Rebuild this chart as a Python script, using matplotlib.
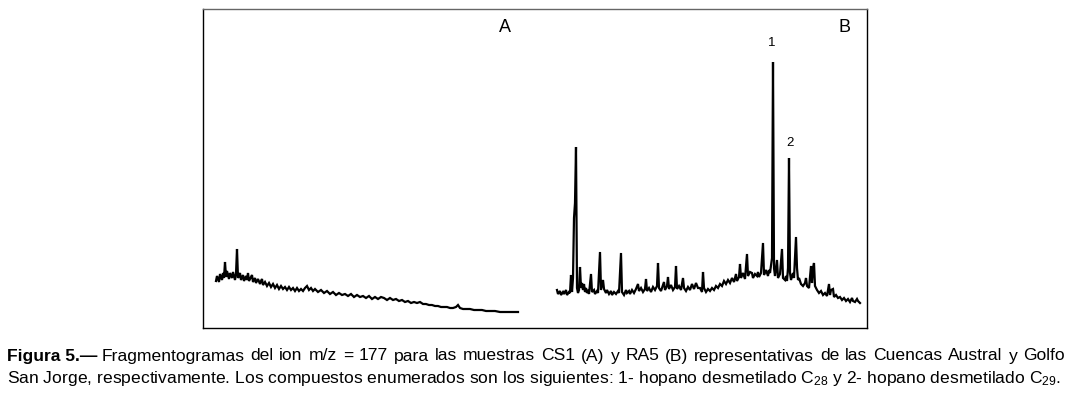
import matplotlib
matplotlib.use("Agg")
import matplotlib.pyplot as plt

plt.rcParams['font.family'] = ['Liberation Sans', 'DejaVu Sans']
plt.rcParams['mathtext.fontset'] = 'custom'
plt.rcParams['mathtext.rm'] = 'Liberation Sans'
plt.rcParams['mathtext.it'] = 'Liberation Sans:italic'
plt.rcParams['mathtext.bf'] = 'Liberation Sans:bold'

# muestra CS1 (A): pares (tiempo de retencion, abundancia), unidades arbitrarias
puntos_A = [
    (216, 47), (217, 52), (219, 46), (220, 54), (222, 48), (223, 55), (224, 50),
    (225, 66), (226, 51), (227, 57), (229, 49), (230, 55), (232, 50), (233, 56),
    (235, 48), (236, 54), (237, 79), (238, 50), (240, 55), (241, 48), (243, 53),
    (244, 47), (246, 52), (247, 48), (248, 55), (249, 47), (251, 51), (252, 53),
    (253, 46), (255, 50), (256, 45), (258, 49), (260, 44), (261, 47), (262, 49),
    (263, 43), (265, 46), (267, 42), (269, 45), (271, 41), (273, 44), (275, 40),
    (277, 43), (279, 39), (281, 42), (283, 39), (285, 41), (287, 38), (289, 41),
    (291, 38), (293, 40), (295, 37), (297, 40), (299, 37), (301, 39), (303, 37),
    (305, 40), (307, 42), (309, 38), (311, 40), (313, 37), (315, 39), (318, 36),
    (321, 38), (324, 35), (327, 37), (330, 34), (333, 36), (336, 33), (339, 35),
    (342, 33), (345, 34), (348, 32), (351, 34), (354, 31), (357, 33), (360, 31),
    (363, 32), (366, 30), (369, 32), (372, 29), (375, 31), (378, 29), (381, 31),
    (384, 30), (387, 28), (390, 30), (393, 28), (396, 29), (399, 27), (402, 28),
    (405, 26), (408, 27), (411, 25), (414, 26), (417, 25), (420, 26), (423, 24),
    (426, 24), (429, 23), (432, 23), (435, 22), (438, 22), (441, 21), (444, 21),
    (447, 21), (450, 20), (453, 20), (456, 21), (458, 23), (460, 20), (463, 19),
    (466, 19), (470, 19), (474, 18), (478, 18), (482, 18), (486, 17), (490, 17),
    (495, 17), (500, 16), (505, 16), (510, 16), (514, 16), (518, 16),
]

# muestra RA5 (B)
puntos_B = [
    (557, 38), (558, 34), (560, 37), (561, 33), (563, 36), (564, 34), (566, 38),
    (567, 33), (569, 36), (570, 35), (571, 53), (572, 36), (573, 50), (574, 110),
    (575, 125), (576, 181), (577, 40), (578, 35), (579, 38), (580, 61), (581, 40),
    (582, 45), (583, 38), (584, 44), (585, 36), (586, 40), (587, 35), (588, 38),
    (589, 34), (591, 54), (592, 36), (594, 38), (595, 34), (597, 37), (598, 35),
    (600, 76), (601, 38), (603, 48), (604, 39), (606, 35), (607, 38), (609, 34),
    (611, 37), (612, 33), (614, 36), (616, 34), (618, 37), (619, 35), (621, 75),
    (622, 36), (624, 33), (626, 38), (627, 35), (629, 37), (630, 34), (632, 38),
    (634, 35), (636, 39), (638, 44), (639, 37), (641, 40), (643, 36), (645, 39),
    (646, 49), (647, 37), (649, 40), (651, 36), (653, 41), (655, 38), (657, 42),
    (658, 65), (659, 40), (661, 37), (663, 43), (664, 46), (665, 38), (667, 42),
    (668, 51), (669, 39), (671, 43), (673, 38), (675, 41), (676, 62), (677, 39),
    (679, 42), (681, 38), (683, 50), (684, 40), (686, 37), (688, 41), (690, 38),
    (692, 44), (694, 39), (696, 45), (698, 40), (700, 40), (702, 36), (703, 56),
    (704, 40), (706, 36), (708, 39), (710, 37), (712, 40), (714, 38), (716, 42),
    (718, 40), (720, 44), (722, 42), (724, 47), (726, 44), (728, 48), (730, 45),
    (732, 50), (734, 46), (736, 54), (737, 47), (739, 51), (740, 64), (741, 50),
    (743, 55), (745, 49), (747, 74), (748, 52), (750, 56), (752, 55), (753, 50),
    (755, 54), (757, 52), (758, 56), (759, 51), (761, 55), (763, 85), (764, 53),
    (766, 58), (768, 52), (769, 58), (770, 55), (772, 70), (773, 266), (774, 60),
    (775, 52), (777, 68), (778, 50), (780, 54), (782, 79), (783, 50), (785, 48),
    (786, 52), (787, 47), (788, 60), (789, 170), (790, 55), (791, 48), (793, 55),
    (794, 50), (796, 91), (797, 60), (798, 48), (799, 50), (801, 44), (803, 42),
    (805, 45), (806, 50), (807, 42), (809, 40), (811, 62), (812, 45), (813, 60),
    (814, 65), (815, 42), (817, 38), (819, 35), (821, 37), (823, 33), (825, 35),
    (827, 32), (829, 44), (830, 33), (831, 38), (833, 39), (834, 31), (836, 33),
    (838, 30), (840, 31), (842, 28), (844, 30), (846, 27), (848, 29), (850, 26),
    (852, 30), (853, 27), (855, 26), (857, 29), (858, 27), (860, 25),
]

leyenda = ("Fragmentogramas del ion m/z = 177 para las muestras CS1 (A) y RA5 (B) "
           "representativas de las Cuencas Austral y Golfo")
leyenda2 = (r"San Jorge, respectivamente. Los compuestos enumerados son los siguientes: "
            r"1- hopano desmetilado C$_{28}$ y 2- hopano desmetilado C$_{29}$.")

fig = plt.figure(figsize=(10.72, 3.96), dpi=100)
ax = fig.add_axes([203 / 1072, 68 / 396, 664 / 1072, 319 / 396])
for pts in (puntos_A, puntos_B):
    xs = [p[0] for p in pts]
    ys = [p[1] for p in pts]
    ax.plot(xs, ys, color='black', lw=1.6, solid_joinstyle='miter')
ax.set_xlim(203, 867)
ax.set_ylim(0, 319)
ax.set_xticks([])
ax.set_yticks([])
for s in ax.spines.values():
    s.set_linewidth(1.0)
    s.set_color('black')
ax.spines['top'].set_color('#666666')

ax.text(505, 300, "A", fontsize=13, ha='center', va='center')
ax.text(845, 300, "B", fontsize=13, ha='center', va='center')
ax.text(772, 285, "1", fontsize=9.5, ha='center', va='center')
ax.text(790, 185, "2", fontsize=9.5, ha='center', va='center')

# pie de figura (primera linea justificada)
fs = 12.6
W = 1072
y1 = 1 - 356 / 396
t1 = fig.text(7 / W, y1, "Figura 5.\u2014", fontsize=fs, fontweight='bold', va='center')
fig.canvas.draw()
r = fig.canvas.get_renderer()
x0 = t1.get_window_extent(r).x1 + 4
palabras = leyenda.split(" ")
textos = [fig.text(0, y1, p, fontsize=fs, va='center') for p in palabras]
anchos = [t.get_window_extent(r).width for t in textos]
hueco = (1065 - x0 - sum(anchos)) / (len(palabras) - 1)
x = x0
for t, w in zip(textos, anchos):
    t.set_x(x / W)
    x += w + hueco
fig.text(7 / W, 1 - 378 / 396, leyenda2, fontsize=fs, va='center')

fig.savefig("out.png", dpi=100)
